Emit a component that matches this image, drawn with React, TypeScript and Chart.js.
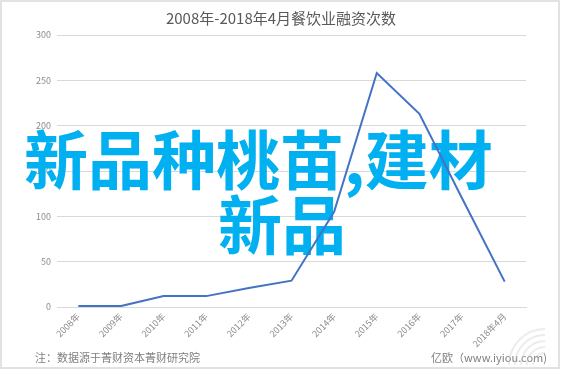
import React, { useEffect, useRef } from "react";
import { Chart, registerables } from "chart.js";

Chart.register(...registerables);

const categories = ["2008年", "2009年", "2010年", "2011年", "2012年", "2013年", "2014年", "2015年", "2016年", "2017年", "2018年4月"];
const counts = [1, 1, 12, 12, 21, 29, 105, 258, 213, 120, 28];
const yTicks = [0, 50, 100, 150, 200, 250, 300];
const titleText = "2008年-2018年4月餐饮业融资次数";
const noteText = "注：数据源于菁财资本菁财研究院";
const sourceText = "亿欧（www.iyiou.com)";
const overlayLine1 = "新品种桃苗,建材";
const overlayLine2 = "新品";

const FONT = '"Noto Sans CJK SC", "Noto Sans", sans-serif';

const decorPlugin = {
  id: "decor",
  beforeDraw(chart: any) {
    const ctx = chart.ctx;
    ctx.save();
    ctx.fillStyle = "#ffffff";
    ctx.fillRect(0, 0, chart.width, chart.height);
    ctx.strokeStyle = "#d9d9d9";
    ctx.lineWidth = 1.5;
    ctx.strokeRect(1, 1, 558, 367);
    // title
    ctx.fillStyle = "#595959";
    ctx.font = `15px ${FONT}`;
    ctx.textAlign = "center";
    ctx.textBaseline = "middle";
    ctx.fillText(titleText, 281, 18);
    // footer
    ctx.font = `11px ${FONT}`;
    ctx.fillStyle = "#7f7f7f";
    ctx.textAlign = "left";
    ctx.fillText(noteText, 35, 358);
    ctx.textAlign = "right";
    ctx.fillText(sourceText, 547, 358);
    // faint watermark arcs
    ctx.strokeStyle = "rgba(200,200,200,0.35)";
    ctx.lineWidth = 2;
    for (let i = 0; i < 5; i++) {
      ctx.beginPath();
      ctx.arc(545, 365, 12 + i * 6, Math.PI, Math.PI * 1.5);
      ctx.stroke();
    }
    ctx.restore();
  },
  beforeDatasetsDraw(chart: any) {
    const ctx = chart.ctx;
    ctx.save();
    ctx.fillStyle = "#00b0f0";
    ctx.font = `bold 64px ${FONT}`;
    ctx.textBaseline = "middle";
    ctx.textAlign = "left";
    ctx.fillText(overlayLine1, 24, 160);
    ctx.textAlign = "center";
    ctx.fillText(overlayLine2, 282, 225);
    ctx.restore();
  },
};

export default function App() {
  const ref = useRef<HTMLCanvasElement>(null);
  useEffect(() => {
    document.body.style.margin = "0";
    const chart = new Chart(ref.current!, {
      type: "line",
      data: {
        labels: categories,
        datasets: [
          {
            data: counts,
            borderColor: "#4472c4",
            borderWidth: 2,
            pointRadius: 0,
            tension: 0,
            fill: false,
          },
        ],
      },
      options: {
        animation: false,
        responsive: false,
        layout: { padding: { left: 0, right: 37, top: 35, bottom: 0 } },
        plugins: { legend: { display: false }, tooltip: { enabled: false }, title: { display: false } },
        scales: {
          x: {
            offset: true,
            grid: { display: false, drawTicks: false },
            border: { display: true, color: "#d9d9d9" },
            ticks: {
              minRotation: 45,
              maxRotation: 45,
              color: "#8c8c8c",
              font: { family: FONT, size: 9 },
              padding: 4,
              autoSkip: false,
            },
            afterFit: (s: any) => {
              s.height = 63;
            },
          },
          y: {
            min: 0,
            max: 300,
            afterBuildTicks: (s: any) => {
              s.ticks = yTicks.map((v) => ({ value: v }));
            },
            grid: { color: "#d9d9d9", drawTicks: false },
            border: { display: false },
            ticks: {
              color: "#8c8c8c",
              font: { family: FONT, size: 9 },
              padding: 6,
            },
            afterFit: (s: any) => {
              s.width = 57;
            },
          },
        },
      },
      plugins: [decorPlugin],
    });
    return () => chart.destroy();
  }, []);
  return (
    <div style={{ position: "absolute", left: 0, top: 0, width: 563, height: 370 }}>
      <canvas ref={ref} width={563} height={370} style={{ width: 563, height: 370, display: "block" }} />
    </div>
  );
}
